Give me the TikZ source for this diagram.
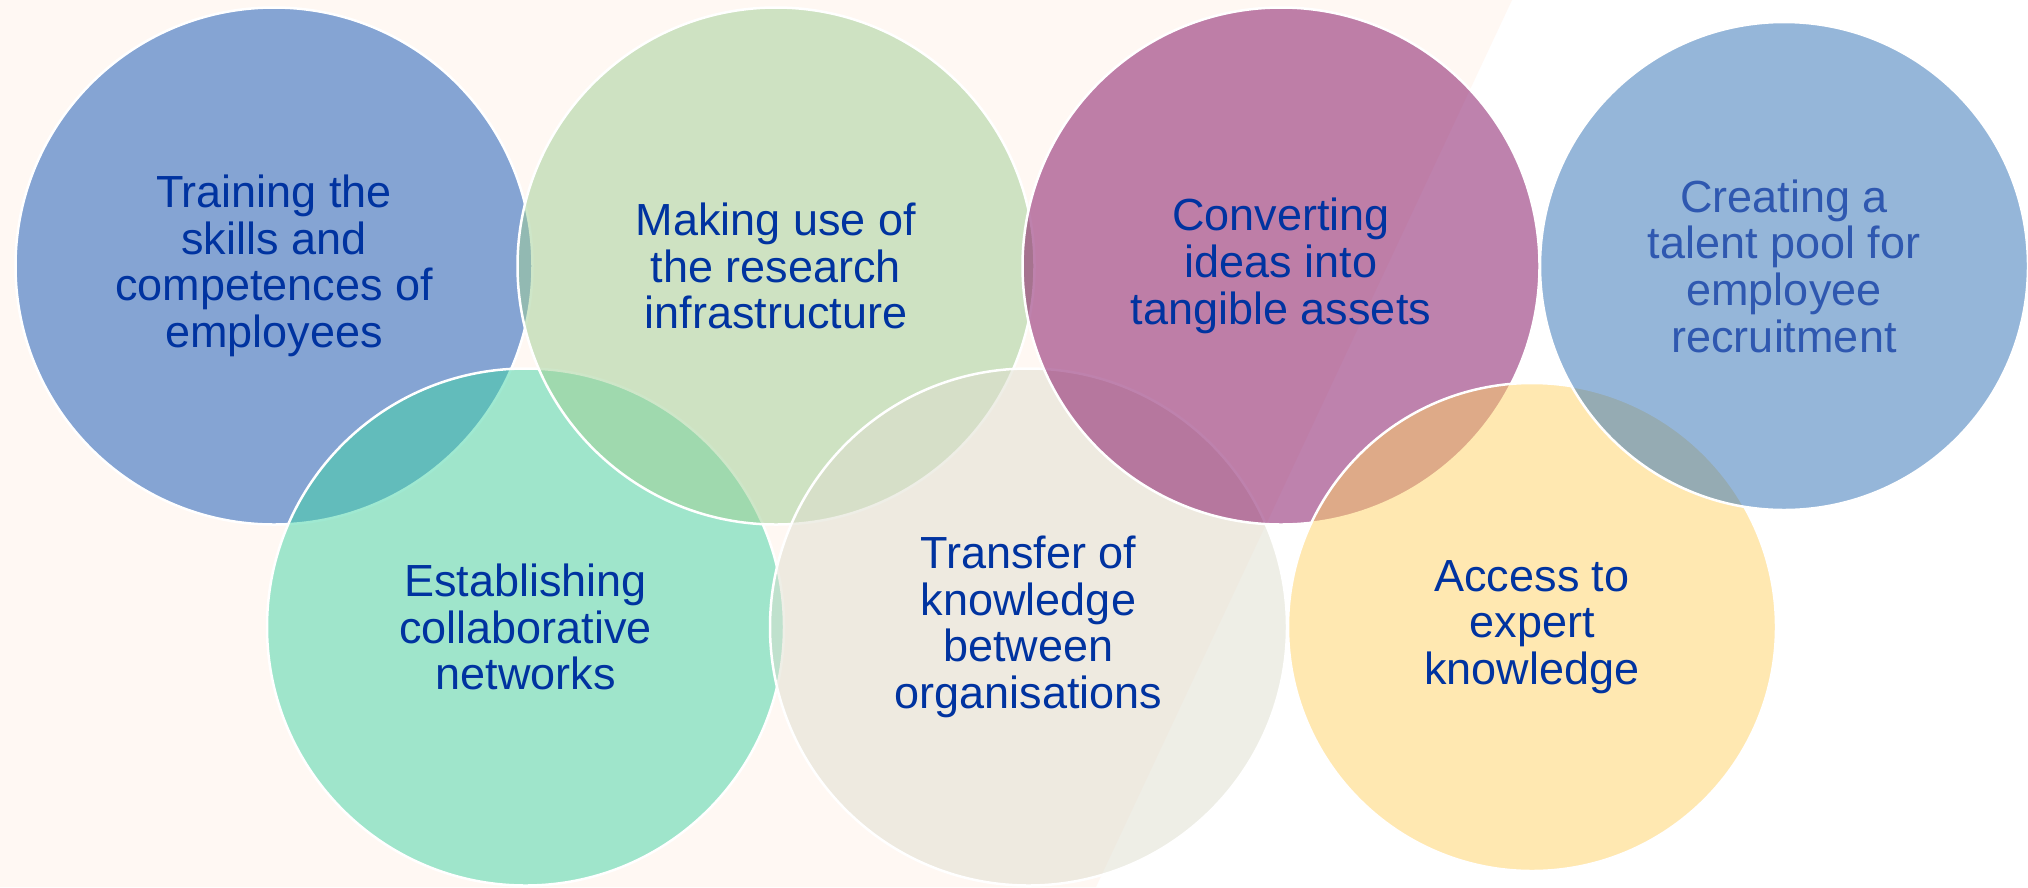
\documentclass[tikz,border=0pt]{standalone}
\usepackage{fontspec}
\setmainfont{Liberation Sans}
\definecolor{peach}{HTML}{FFF8F3}
\definecolor{cblue}{HTML}{0D52B5}
\definecolor{cteal}{HTML}{41D4A5}
\definecolor{cgreen}{HTML}{9FCE93}
\definecolor{cbeige}{HTML}{DFDECF}
\definecolor{cmag}{HTML}{7F065D}
\definecolor{cyel}{HTML}{FFD365}
\definecolor{clblue}{HTML}{2D6FB5}
\definecolor{txt}{HTML}{0033A0}
\definecolor{txtl}{HTML}{2F58B0}
\begin{document}
\begin{tikzpicture}[x=1pt,y=-1pt,
  bubble/.style={circle, inner sep=0pt, minimum size=517pt, draw=white,
    line width=2.5pt, fill opacity=0.5, draw opacity=1, text opacity=1,
    text=txt, align=center, font=\fontsize{45}{46.7}\selectfont},
  smallbubble/.style={bubble, minimum size=488pt}]
\fill[white] (0,0) rectangle (2028,887);
\useasboundingbox (0,0) rectangle (2028,887);
\fill[peach] (0,0) -- (1512,0) -- (1096,887) -- (0,887) -- cycle;
\node[bubble, fill=cblue] (skills) at (274,266)
  {Training the\\skills and\\competences of\\employees};
\node[bubble, fill=cteal] (networks) at (525.5,627)
  {Establishing\\collaborative\\networks};
\node[bubble, fill=cgreen] (infra) at (776,266)
  {Making use of\\the research\\infrastructure};
\node[bubble, fill=cbeige] (transfer) at (1028.5,627)
  {Transfer of\\knowledge\\between\\organisations};
\node[bubble, fill=cmag] (ideas) at (1281,266)
  {Converting\\ideas into\\tangible assets};
\node[smallbubble, fill=cyel] (expert) at (1532,627)
  {Access to\\expert\\knowledge};
\node[smallbubble, fill=clblue, text=txtl] (talent) at (1784,266)
  {Creating a\\talent pool for\\employee\\recruitment};
\end{tikzpicture}
\end{document}
